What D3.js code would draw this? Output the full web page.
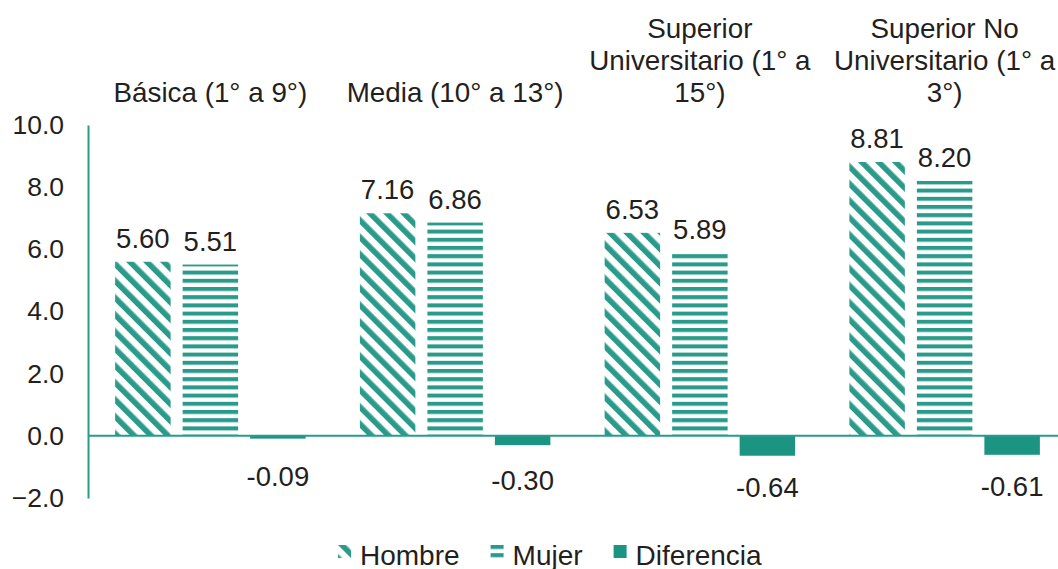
<!DOCTYPE html>
<html>
<head>
<meta charset="utf-8">
<script src="https://cdn.jsdelivr.net/npm/d3@7"></script>
<style>
  html, body { margin: 0; padding: 0; background: #ffffff; }
  svg { display: block; font-family: "Liberation Sans", Arial, sans-serif; }
</style>
</head>
<body>
<svg id="chart" width="1058" height="569"></svg>
<script>
// Education levels (groups) and series
const categories = [
  "Básica (1° a 9°)",
  "Media (10° a 13°)",
  "Superior Universitario (1° a 15°)",
  "Superior No Universitario (1° a 3°)"
];
const seriesNames = ["Hombre", "Mujer", "Diferencia"];
const hombre = [5.60, 7.16, 6.53, 8.81];
const mujer = [5.51, 6.86, 5.89, 8.20];
const diferencia = [-0.09, -0.30, -0.64, -0.61];
const yTicks = [-2, 0, 2, 4, 6, 8, 10];

const seriesValues = [hombre, mujer, diferencia];
const rows = categories.map((c, i) => ({
  category: c,
  values: seriesNames.map((s, k) => ({ series: s, value: seriesValues[k][i] }))
}));

const teal = "#2a9b8b";
const tealDark = "#1b9482";
const textColor = "#231f20";

const svg = d3.select("#chart");
const defs = svg.append("defs");

// Wide downward diagonal hatch
const diag = defs.append("pattern")
  .attr("id", "hatch-diag")
  .attr("patternUnits", "userSpaceOnUse")
  .attr("width", 12).attr("height", 12)
  .attr("patternTransform", "rotate(-45)");
diag.append("rect").attr("x", 0).attr("y", 0).attr("width", 12).attr("height", 12).attr("fill", "#ffffff");
diag.append("rect").attr("x", 0).attr("y", 0).attr("width", 5.6).attr("height", 12).attr("fill", teal);

// Wide horizontal stripes
const horiz = defs.append("pattern")
  .attr("id", "hatch-horiz")
  .attr("patternUnits", "userSpaceOnUse")
  .attr("width", 10).attr("height", 8.2);
horiz.append("rect").attr("x", 0).attr("y", 0).attr("width", 10).attr("height", 8.2).attr("fill", "#ffffff");
horiz.append("rect").attr("x", 0).attr("y", 0).attr("width", 10).attr("height", 4).attr("fill", teal);

const fills = {
  "Hombre": "url(#hatch-diag)",
  "Mujer": "url(#hatch-horiz)",
  "Diferencia": tealDark
};

const plotLeft = 88;
const groupStep = 244.75;

const x0 = d3.scaleBand()
  .domain(categories)
  .range([plotLeft, plotLeft + groupStep * categories.length])
  .padding(0);

const x1 = d3.scaleBand()
  .domain(seriesNames)
  .range([0, x0.bandwidth()])
  .paddingInner(0.178)
  .paddingOuter(0.402);

const y = d3.scaleLinear()
  .domain([-2, 10])
  .range([498, 125]);

// Bars
const groups = svg.append("g").attr("class", "bars")
  .selectAll("g")
  .data(rows)
  .join("g");

groups.selectAll("rect")
  .data(d => d.values.map(v => ({ ...v, category: d.category })))
  .join("rect")
  .attr("x", d => x0(d.category) + x1(d.series))
  .attr("width", x1.bandwidth())
  .attr("y", d => y(Math.max(0, d.value)))
  .attr("height", d => Math.abs(y(d.value) - y(0)))
  .attr("fill", d => fills[d.series]);

// Value labels
groups.selectAll("text.value")
  .data(d => d.values.map(v => ({ ...v, category: d.category })))
  .join("text")
  .attr("class", "value")
  .attr("x", d => x0(d.category) + x1(d.series) + x1.bandwidth() / 2)
  .attr("y", d => d.value >= 0
    ? y(d.value) - 14
    : y(0) + 48 + 0.65 * (y(d.value) - y(0)))
  .attr("text-anchor", "middle")
  .attr("font-size", 27.5)
  .attr("fill", textColor)
  .text(d => d.value.toFixed(2));

// Zero line
svg.append("line")
  .attr("x1", plotLeft).attr("x2", 1058)
  .attr("y1", y(0)).attr("y2", y(0))
  .attr("stroke", teal).attr("stroke-width", 2);

// Y axis
const yAxis = svg.append("g")
  .attr("transform", `translate(${plotLeft},0)`)
  .call(d3.axisLeft(y).tickValues(yTicks).tickFormat(d3.format(".1f")).tickSize(0).tickPadding(24));
yAxis.select(".domain").attr("stroke", teal).attr("stroke-width", 2);
yAxis.selectAll("text")
  .attr("font-size", 26.5)
  .attr("font-family", "'Liberation Sans', Arial, sans-serif")
  .attr("fill", textColor);

// Category labels, wrapped and bottom-aligned above the plot
const wrapWidth = 238;
const lineHeight = 32;
const labelBaseline = 102;
const catLabels = svg.append("g").attr("class", "categories");
categories.forEach(cat => {
  const cx = x0(cat) + x0.bandwidth() / 2;
  const t = catLabels.append("text")
    .attr("text-anchor", "middle")
    .attr("font-size", 27.8)
    .attr("fill", textColor);
  const words = cat.split(" ");
  const lines = [];
  let current = [];
  const probe = t.append("tspan");
  words.forEach(w => {
    const trial = current.concat(w).join(" ");
    probe.text(trial);
    if (probe.node().getComputedTextLength() > wrapWidth && current.length) {
      lines.push(current.join(" "));
      current = [w];
    } else {
      current.push(w);
    }
  });
  lines.push(current.join(" "));
  probe.remove();
  lines.forEach((line, i) => {
    t.append("tspan")
      .attr("x", cx)
      .attr("y", labelBaseline - (lines.length - 1 - i) * lineHeight)
      .text(line);
  });
});

// Legend
const legend = svg.append("g").attr("class", "legend");
let lx = 338;
seriesNames.forEach(name => {
  const item = legend.append("g").attr("transform", `translate(${lx},545)`);
  item.append("rect")
    .attr("width", 13).attr("height", 13)
    .attr("fill", fills[name]);
  const label = item.append("text")
    .attr("x", 22).attr("y", 19.5)
    .attr("font-size", 28)
    .attr("fill", textColor)
    .text(name);
  lx += 22 + label.node().getComputedTextLength() + 31;
});
</script>
</body>
</html>
